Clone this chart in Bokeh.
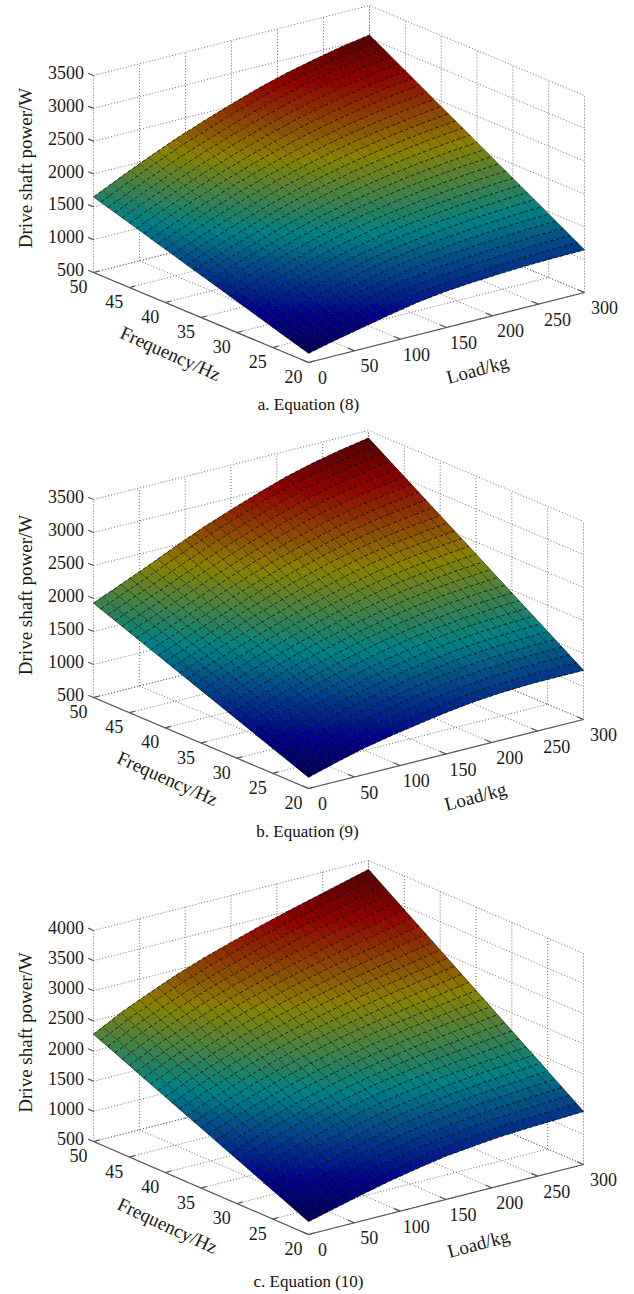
from bokeh.plotting import figure
from bokeh.layouts import column
from bokeh.models import Range1d, ColumnDataSource
from bokeh.embed import file_html
from bokeh.resources import INLINE
from bokeh.core.properties import value
import numpy as np

# ---- values ----------------------------------------------------------------
FREQ_NODES = [20, 23, 26, 29, 32, 35, 38, 41, 44, 47, 50]
LOAD_NODES = [0, 30, 60, 90, 120, 150, 180, 210, 240, 270, 300]

FREQ_TICKS = [20, 25, 30, 35, 40, 45, 50]
LOAD_TICKS = [0, 50, 100, 150, 200, 250, 300]
POWER_TICKS_AB = [500, 1000, 1500, 2000, 2500, 3000, 3500]
POWER_TICKS_C = [500, 1000, 1500, 2000, 2500, 3000, 3500, 4000]

POWER_EQ8 = [
    [640, 740, 830, 920, 1000, 1055, 1090, 1115, 1135, 1145, 1150],
    [741, 851, 951, 1050, 1138, 1203, 1248, 1283, 1311, 1329, 1340],
    [842, 962, 1072, 1180, 1276, 1350, 1406, 1450, 1486, 1512, 1530],
    [943, 1073, 1193, 1310, 1414, 1498, 1564, 1618, 1662, 1696, 1720],
    [1044, 1184, 1314, 1440, 1552, 1645, 1722, 1785, 1837, 1879, 1910],
    [1145, 1295, 1435, 1570, 1690, 1793, 1880, 1953, 2013, 2063, 2100],
    [1246, 1406, 1556, 1700, 1828, 1940, 2038, 2120, 2188, 2246, 2290],
    [1347, 1517, 1677, 1830, 1966, 2088, 2196, 2288, 2364, 2430, 2480],
    [1448, 1628, 1798, 1960, 2104, 2235, 2354, 2455, 2539, 2613, 2670],
    [1549, 1739, 1919, 2090, 2242, 2383, 2512, 2623, 2715, 2797, 2860],
    [1650, 1850, 2040, 2220, 2380, 2530, 2670, 2790, 2890, 2980, 3050],
]
POWER_EQ9 = [
    [670, 790, 900, 985, 1060, 1130, 1185, 1220, 1240, 1245, 1245],
    [796, 922, 1039, 1134, 1220, 1299, 1364, 1409, 1438, 1452, 1459],
    [922, 1054, 1178, 1284, 1380, 1468, 1542, 1598, 1636, 1658, 1673],
    [1048, 1186, 1317, 1434, 1540, 1637, 1721, 1787, 1834, 1865, 1887],
    [1174, 1318, 1456, 1583, 1700, 1806, 1899, 1976, 2032, 2071, 2101],
    [1300, 1450, 1595, 1733, 1860, 1975, 2078, 2165, 2230, 2278, 2315],
    [1426, 1582, 1734, 1882, 2020, 2144, 2256, 2354, 2428, 2484, 2529],
    [1552, 1714, 1873, 2032, 2180, 2313, 2435, 2543, 2626, 2691, 2743],
    [1678, 1846, 2012, 2181, 2340, 2482, 2613, 2732, 2824, 2897, 2957],
    [1804, 1978, 2151, 2331, 2500, 2651, 2792, 2921, 3022, 3104, 3171],
    [1930, 2110, 2290, 2480, 2660, 2820, 2970, 3110, 3220, 3310, 3385],
]
POWER_EQ10 = [
    [715, 830, 945, 1050, 1140, 1220, 1270, 1315, 1340, 1360, 1380],
    [872, 999, 1123, 1236, 1334, 1420, 1479, 1533, 1567, 1597, 1627],
    [1028, 1168, 1300, 1422, 1527, 1620, 1688, 1750, 1794, 1834, 1874],
    [1185, 1337, 1478, 1608, 1721, 1820, 1897, 1968, 2021, 2071, 2121],
    [1341, 1506, 1655, 1794, 1914, 2020, 2106, 2185, 2248, 2308, 2368],
    [1498, 1675, 1833, 1980, 2108, 2220, 2315, 2403, 2475, 2545, 2615],
    [1654, 1844, 2010, 2166, 2301, 2420, 2524, 2620, 2702, 2782, 2862],
    [1811, 2013, 2188, 2352, 2495, 2620, 2733, 2838, 2929, 3019, 3109],
    [1967, 2182, 2365, 2538, 2688, 2820, 2942, 3055, 3156, 3256, 3356],
    [2124, 2351, 2543, 2724, 2882, 3020, 3151, 3273, 3383, 3493, 3603],
    [2280, 2520, 2720, 2910, 3075, 3220, 3360, 3490, 3610, 3730, 3850],
]

# ---- styling / layout -------------------------------------------------------
JET_POS = [0.0, 0.11, 0.36, 0.61, 0.86, 1.0]
JET_R = [0, 0, 0, 140, 145, 80]
JET_G = [0, 0, 130, 130, 0, 0]
JET_B = [80, 140, 135, 0, 0, 0]
FONT = value("Liberation Serif")

PANELS = [
    dict(top=0, bottom=430, z=POWER_EQ8, ticks=POWER_TICKS_AB, zlo=500, zhi=3500, zpx=197,
         front=(308, 362), left=(93, 272), right=(584, 292), cap="a. Equation (8)", capy=404,
         ylab=167.5, fx=170, fy=353, fang=24, lx=477, ly=369, lang=15, capx=308, lalpha=0.45),
    dict(top=430, bottom=860, z=POWER_EQ9, ticks=POWER_TICKS_AB, zlo=500, zhi=3500, zpx=198,
         front=(308, 788), left=(93, 697), right=(583, 719), cap="b. Equation (9)", capy=831,
         ylab=594.5, fx=167, fy=778, fang=24, lx=475, ly=796, lang=15, capx=307, lalpha=0.65),
    dict(top=860, bottom=1292, z=POWER_EQ10, ticks=POWER_TICKS_C, zlo=500, zhi=4000, zpx=211,
         front=(308, 1234), left=(93, 1141), right=(583, 1164), cap="c. Equation (10)", capy=1281,
         ylab=1032, fx=167, fy=1225, fang=25, lx=478, ly=1243, lang=15, capx=308, lalpha=0.65),
]


def colour(t):
    r = np.interp(t, JET_POS, JET_R)
    g = np.interp(t, JET_POS, JET_G)
    b = np.interp(t, JET_POS, JET_B)
    return "#%02x%02x%02x" % (int(r), int(g), int(b))


def panel(P):
    p = figure(width=626, height=P["bottom"] - P["top"], output_backend="svg", toolbar_location=None,
               x_range=Range1d(0, 626), y_range=Range1d(P["bottom"], P["top"]),
               min_border=0, outline_line_color=None)
    p.axis.visible = False
    p.grid.visible = False

    fr, lf, rt = map(np.array, (P["front"], P["left"], P["right"]))
    vf, vl = (lf - fr) / 30.0, (rt - fr) / 300.0
    kz = P["zpx"] / float(P["zhi"] - P["zlo"])

    def proj(f, l, z):
        f, l, z = np.asarray(f, float), np.asarray(l, float), np.asarray(z, float)
        x = fr[0] + (f - 20) * vf[0] + l * vl[0]
        y = fr[1] + (f - 20) * vf[1] + l * vl[1] - (z - P["zlo"]) * kz
        return x, y

    # box grid
    gx, gy = [], []
    def seg(a, b):
        x, y = proj(*zip(a, b))
        gx.append(list(x)); gy.append(list(y))
    zl, zh = P["zlo"], P["zhi"]
    for z in P["ticks"]:
        seg((50, 0, z), (50, 300, z))
        seg((50, 300, z), (20, 300, z))
    for l in LOAD_TICKS:
        seg((50, l, zl), (50, l, zh))
        seg((50, l, zl), (20, l, zl))
    for f in FREQ_TICKS:
        seg((f, 300, zl), (f, 300, zh))
        seg((f, 0, zl), (f, 300, zl))
    p.multi_line(gx, gy, line_color="#6f6f6f", line_width=1, line_dash="1 2")

    # axes
    ax = []
    ay = []
    def aseg(a, b):
        x, y = proj(*zip(a, b))
        ax.append(list(x)); ay.append(list(y))
    aseg((50, 0, zl), (20, 0, zl))
    aseg((20, 0, zl), (20, 300, zl))
    for f in FREQ_TICKS:
        aseg((f, 0, zl), (f, 6, zl))
    for l in LOAD_TICKS:
        aseg((20, l, zl), (20.9, l, zl))
    for z in P["ticks"]:
        aseg((50, 0, z), (50.75, 0, z))
    p.multi_line(ax, ay, line_color="#555555", line_width=1.2)

    # surface: the table's facets are each shaded as 3 x 3 flat cells (rendering only)
    Z = np.array(P["z"], float)
    fn = np.linspace(20, 50, 3 * 10 + 1)
    ln = np.linspace(0, 300, 3 * 10 + 1)
    Zf = np.array([np.interp(ln, LOAD_NODES, row) for row in Z])
    Zm = np.array([np.interp(fn, FREQ_NODES, Zf[:, j]) for j in range(len(ln))]).T
    zmin, zmax = Zm.min(), Zm.max()
    xs, ys, cols = [], [], []
    for i in range(len(fn) - 1):
        for j in range(len(ln) - 1):
            ff = [fn[i], fn[i], fn[i + 1], fn[i + 1]]
            ll = [ln[j], ln[j + 1], ln[j + 1], ln[j]]
            zz = [Zm[i, j], Zm[i, j + 1], Zm[i + 1, j + 1], Zm[i + 1, j]]
            x, y = proj(ff, ll, zz)
            xs.append(list(x)); ys.append(list(y))
            cols.append(colour((np.mean(zz) - zmin) / (zmax - zmin)))
    p.patches("xs", "ys", fill_color="cols", line_color="cols", line_width=0.4,
              source=ColumnDataSource(dict(xs=xs, ys=ys, cols=cols)))
    mx, my = [], []
    for j in range(len(ln)):
        x, y = proj(fn, np.full(len(fn), ln[j]), Zm[:, j])
        mx.append(list(x)); my.append(list(y))
    p.multi_line(mx, my, line_color="#000000", line_width=0.7, line_alpha=P["lalpha"])
    mx, my = [], []
    for i in range(len(fn)):
        x, y = proj(np.full(len(ln), fn[i]), ln, Zm[i, :])
        mx.append(list(x)); my.append(list(y))
    p.multi_line(mx, my, line_color="#000000", line_width=0.9, line_alpha=0.8, line_dash="4 2")

    # tick labels
    tx, ty = proj(FREQ_TICKS, np.zeros(7), np.full(7, zl))
    p.text(tx - 15, ty + 14, text=[str(v) for v in FREQ_TICKS], text_font=FONT, text_font_size="18px",
           text_align="center", text_baseline="middle", text_color="#1a1a1a")
    tx, ty = proj(np.full(7, 20), LOAD_TICKS, np.full(7, zl))
    p.text(tx + 14 + 6 * np.array(LOAD_TICKS) / 300.0, ty + 15, text=[str(v) for v in LOAD_TICKS],
           text_font=FONT, text_font_size="18px", text_align="center", text_baseline="middle",
           text_color="#1a1a1a")
    n = len(P["ticks"])
    tx, ty = proj(np.full(n, 50), np.zeros(n), P["ticks"])
    p.text(np.full(n, 83.5), ty - 3, text=[str(v) for v in P["ticks"]], text_font=FONT, text_font_size="18px",
           text_align="right", text_baseline="middle", text_color="#1a1a1a")

    # titles
    lab = dict(text_font=FONT, text_font_size="19px", text_align="center", text_baseline="middle",
               text_color="#1a1a1a")
    p.text([25], [P["ylab"]], text=["Drive shaft power/W"], angle=[np.pi / 2], **lab)
    p.text([P["fx"]], [P["fy"]], text=["Frequency/Hz"], angle=[-np.radians(P["fang"])], **lab)
    p.text([P["lx"]], [P["ly"]], text=["Load/kg"], angle=[np.radians(P["lang"])], **lab)
    lab["text_font_size"] = "17px"
    lab["text_color"] = "#111111"
    p.text([P["capx"]], [P["capy"]], text=[P["cap"]], **lab)
    return p


page = column(*[panel(P) for P in PANELS], spacing=0)
open("out.html", "w").write(file_html(page, INLINE))
